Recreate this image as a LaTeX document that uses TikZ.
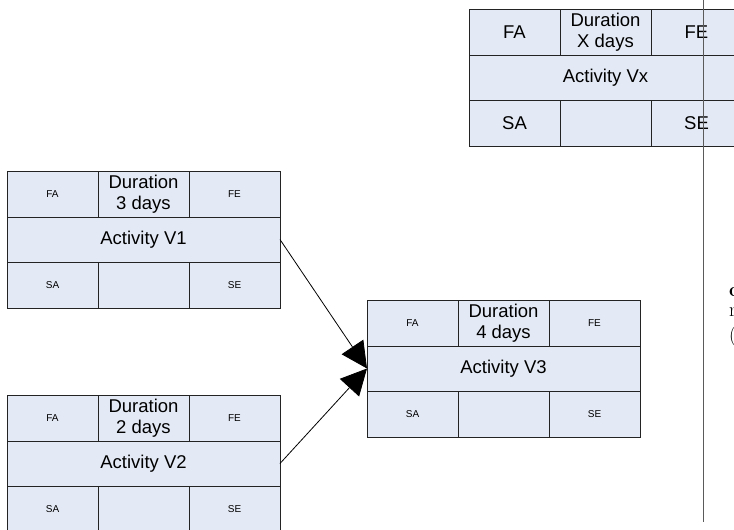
\documentclass[tikz,border=0pt]{standalone}
\usepackage{fontspec}
\setmainfont{Liberation Sans}
\newfontfamily\serifedge{Latin Modern Roman}
\usetikzlibrary{arrows.meta}
\definecolor{boxfill}{RGB}{228,234,245}
\definecolor{boxline}{RGB}{35,35,35}
\definecolor{vline}{RGB}{90,90,90}
\newcommand\bigf{\fontsize{18.5}{21}\selectfont}
\newcommand\smallf{\fontsize{10}{12}\selectfont}
\tikzset{
  cell/.style={draw=boxline, fill=boxfill, line width=1pt, inner sep=0pt, outer sep=0pt,
    anchor=north west, align=center, minimum height=#1},
  link/.style={draw=black, line width=0.8pt, -{Triangle[length=26pt,width=26pt]}},
}
% #1 name prefix, #2 x, #3 y, #4 corner font, #5 duration, #6 activity
\newcommand\actbox[6]{%
  \node[cell=46pt, minimum width=91pt, font=#4] (#1fa) at (#2,#3) {FA};
  \node[cell=46pt, minimum width=91pt, font=\bigf] (#1du) at (#1fa.north east) {Duration\\#5};
  \node[cell=46pt, minimum width=91pt, font=#4] (#1fe) at (#1du.north east) {FE};
  \node[cell=45pt, minimum width=273pt, font=\bigf] (#1m) at (#1fa.south west) {#6};
  \node[cell=46pt, minimum width=91pt, font=#4] (#1sa) at (#1m.south west) {SA};
  \node[cell=46pt, minimum width=91pt] (#1b) at (#1sa.north east) {};
  \node[cell=46pt, minimum width=91pt, font=#4] (#1se) at (#1b.north east) {SE};
}
\begin{document}
\begin{tikzpicture}[x=1pt, y=-1pt]
  \useasboundingbox (0,0) rectangle (734,530);
  \actbox{vx}{469}{9}{\bigf}{X days}{Activity Vx}
  \actbox{vone}{7}{171}{\smallf}{3 days}{Activity V1}
  \actbox{vtwo}{7}{395}{\smallf}{2 days}{Activity V2}
  \actbox{vthree}{367}{300}{\smallf}{4 days}{Activity V3}
  \draw[link] (vonem.east) -- (vthreem.west);
  \draw[link] (vtwom.east) -- (vthreem.west);
  \coordinate (ltop) at (703,0);
  \coordinate (lbot) at (703,522);
  \draw[vline, line width=1pt] (ltop) -- (lbot);
  \node[anchor=west, inner sep=0pt, font=\serifedge\fontsize{20}{20}\selectfont\bfseries] (e1) at (729,292) {o};
  \node[anchor=west, inner sep=0pt, font=\serifedge\fontsize{20}{20}\selectfont] (e2) at (729,312) {r};
  \node[anchor=west, inner sep=0pt, font=\serifedge\fontsize{20}{20}\selectfont] (e3) at (729,337) {(};
\end{tikzpicture}
\end{document}
